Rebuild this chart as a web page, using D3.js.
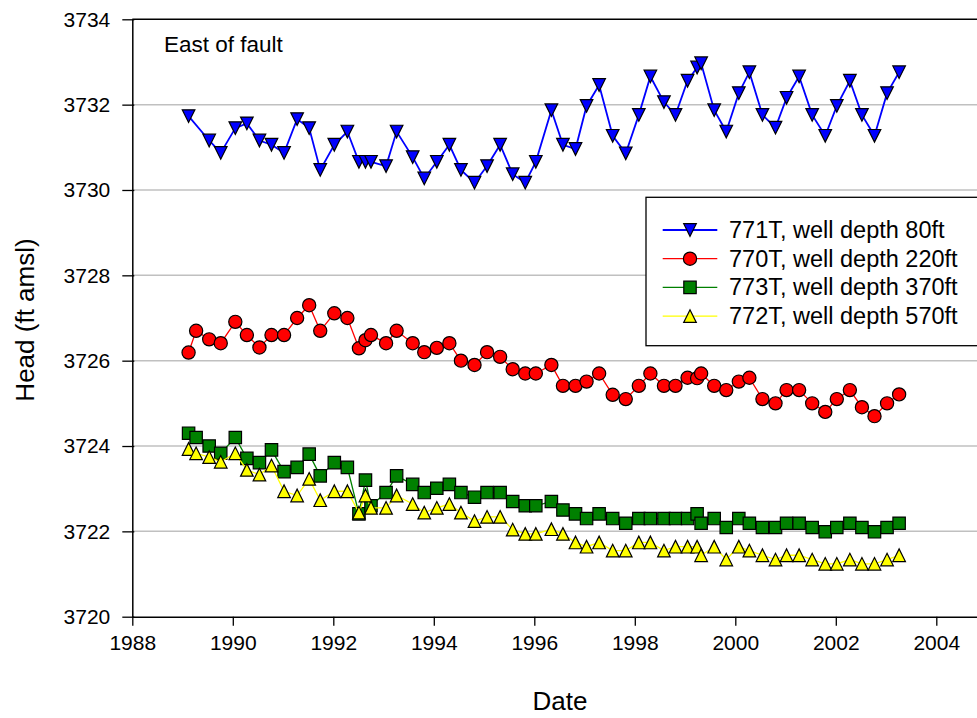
<!DOCTYPE html>
<html><head><meta charset="utf-8">
<script src="https://cdn.jsdelivr.net/npm/d3@7"></script>
<style>body{margin:0;background:#fff}svg{display:block}text{font-family:"Liberation Sans",Arial,sans-serif}</style>
</head><body>
<script>
const dates = [1989.12,1989.27,1989.53,1989.76,1990.05,1990.28,1990.53,1990.77,1991.02,1991.28,1991.52,1991.74,1992.02,1992.28,1992.51,1992.64,1992.75,1993.05,1993.26,1993.58,1993.81,1994.06,1994.31,1994.54,1994.81,1995.06,1995.32,1995.57,1995.82,1996.03,1996.34,1996.57,1996.82,1997.04,1997.29,1997.56,1997.82,1998.08,1998.31,1998.58,1998.81,1999.05,1999.24,1999.32,1999.58,1999.82,2000.07,2000.28,2000.54,2000.80,2001.02,2001.27,2001.53,2001.79,2002.02,2002.28,2002.52,2002.77,2003.02,2003.26];
const w771T = [3731.73,null,3731.16,3730.87,3731.45,3731.56,3731.16,3731.06,3730.87,3731.66,3731.45,3730.47,3731.06,3731.37,3730.66,3730.66,3730.66,3730.56,3731.37,3730.77,3730.27,3730.66,3731.06,3730.47,3730.17,3730.56,3731.06,3730.37,3730.17,3730.66,3731.87,3731.06,3730.96,3731.97,3732.46,3731.27,3730.86,3731.76,3732.66,3732.06,3731.76,3732.56,3732.87,3732.97,3731.87,3731.37,3732.27,3732.76,3731.76,3731.46,3732.16,3732.66,3731.76,3731.27,3731.97,3732.56,3731.76,3731.27,3732.27,3732.76];
const w770T = [3726.19,3726.70,3726.50,3726.41,3726.91,3726.60,3726.31,3726.60,3726.60,3727.00,3727.30,3726.70,3727.11,3727.00,3726.29,3726.48,3726.60,3726.41,3726.70,3726.41,3726.20,3726.30,3726.41,3726.00,3725.90,3726.20,3726.09,3725.80,3725.70,3725.70,3725.90,3725.41,3725.41,3725.51,3725.70,3725.20,3725.10,3725.41,3725.70,3725.41,3725.41,3725.60,3725.59,3725.70,3725.41,3725.31,3725.51,3725.60,3725.10,3725.00,3725.31,3725.31,3725.00,3724.80,3725.10,3725.31,3724.91,3724.70,3725.00,3725.21];
const w773T = [3724.30,3724.20,3724.00,3723.83,3724.20,3723.71,3723.61,3723.91,3723.40,3723.50,3723.81,3723.30,3723.61,3723.50,3722.41,3723.20,3722.60,3722.91,3723.30,3723.10,3722.91,3723.01,3723.10,3722.91,3722.80,3722.91,3722.91,3722.70,3722.60,3722.60,3722.70,3722.50,3722.41,3722.30,3722.41,3722.30,3722.19,3722.30,3722.30,3722.30,3722.30,3722.30,3722.41,3722.19,3722.30,3722.09,3722.30,3722.19,3722.09,3722.09,3722.19,3722.19,3722.09,3721.99,3722.09,3722.19,3722.09,3721.99,3722.09,3722.19];
const w772T = [3723.93,3723.83,3723.74,3723.63,3723.83,3723.44,3723.33,3723.54,3722.94,3722.84,3723.23,3722.73,3722.94,3722.94,3722.44,3722.84,3722.55,3722.55,3722.84,3722.64,3722.44,3722.55,3722.64,3722.44,3722.24,3722.34,3722.34,3722.04,3721.94,3721.94,3722.05,3721.94,3721.74,3721.64,3721.74,3721.55,3721.55,3721.74,3721.74,3721.55,3721.64,3721.64,3721.64,3721.44,3721.64,3721.34,3721.64,3721.55,3721.44,3721.34,3721.44,3721.44,3721.34,3721.24,3721.24,3721.34,3721.24,3721.24,3721.34,3721.44];
const seriesNames = ["771T, well depth 80ft","770T, well depth 220ft","773T, well depth 370ft","772T, well depth 570ft"];
const xTicks = [1988,1990,1992,1994,1996,1998,2000,2002,2004];
const yTicks = [3720,3722,3724,3726,3728,3730,3732,3734];

const W = 977, H = 718;
const svg = d3.select("body").append("svg").attr("width", W).attr("height", H);
const L = 132.3, T = 19.3, B = 616.7;
const x = d3.scaleLinear().domain([1988, 2006]).range([L, L + 18 * 50.25]);
const y = d3.scaleLinear().domain([3720, 3734]).range([B, T]);

svg.append("g").selectAll("line").data(yTicks.filter(v => v > 3720 && v < 3734)).join("line")
  .attr("x1", L).attr("x2", x(2006)).attr("y1", d => y(d)).attr("y2", d => y(d))
  .attr("stroke", "#c0c0c0").attr("stroke-width", 1.5);

svg.append("line").attr("x1", L).attr("x2", x(2006)).attr("y1", T).attr("y2", T).attr("stroke", "#000").attr("stroke-width", 1.5);

const xAxis = svg.append("g").attr("transform", `translate(0,${B})`)
  .call(d3.axisBottom(x).tickValues(xTicks).tickFormat(d3.format("d")).tickSize(9).tickSizeOuter(0).tickPadding(9));
const yAxis = svg.append("g").attr("transform", `translate(${L},0)`)
  .call(d3.axisLeft(y).tickValues(yTicks).tickFormat(d3.format("d")).tickSize(10).tickSizeOuter(0).tickPadding(12));
[xAxis, yAxis].forEach(g => {
  g.select(".domain").attr("stroke", "#000").attr("stroke-width", 1.5);
  g.selectAll(".tick line").attr("stroke", "#000").attr("stroke-width", 1.3);
  g.selectAll("text").attr("font-size", 21).attr("fill", "#000").attr("font-family", '"Liberation Sans",Arial,sans-serif');
});
yAxis.selectAll(".tick line").attr("x2", -10).attr("x1", 2);

svg.append("text").attr("x", 560).attr("y", 710).attr("text-anchor", "middle").attr("font-size", 26).text("Date");
svg.append("text").attr("transform", "translate(34,320) rotate(-90)").attr("text-anchor", "middle").attr("font-size", 26).text("Head (ft amsl)");
svg.append("text").attr("x", 164).attr("y", 52).attr("font-size", 22.5).text("East of fault");

const sym = {
  tdown: d3.symbol().type({draw(c, s){ const h=6.3; c.moveTo(-h, -h); c.lineTo(h, -h); c.lineTo(0, h); c.closePath(); }}),
  circle: d3.symbol().type(d3.symbolCircle).size(Math.PI * 6.6 * 6.6),
  square: d3.symbol().type(d3.symbolSquare).size(12.4 * 12.4),
  tup: d3.symbol().type({draw(c, s){ const h=6.3; c.moveTo(-h, h); c.lineTo(h, h); c.lineTo(0, -h); c.closePath(); }})
};
const series = [
  {name: seriesNames[0], vals: w771T, color: "#0000ff", lw: 1.8, sym: sym.tdown},
  {name: seriesNames[1], vals: w770T, color: "#ff0000", lw: 1.3, sym: sym.circle},
  {name: seriesNames[2], vals: w773T, color: "#008000", lw: 1.3, sym: sym.square},
  {name: seriesNames[3], vals: w772T, color: "#ffff00", lw: 1.3, sym: sym.tup}
];
const line = d3.line().x(d => x(d[0])).y(d => y(d[1]));
series.forEach(s => {
  const pts = dates.map((d, i) => [d, s.vals[i]]).filter(p => p[1] != null);
  const g = svg.append("g");
  g.append("path").attr("d", line(pts)).attr("fill", "none").attr("stroke", s.color).attr("stroke-width", s.lw);
  g.selectAll("path.m").data(pts).join("path").attr("class", "m")
    .attr("transform", d => `translate(${x(d[0])},${y(d[1])})`)
    .attr("d", s.sym()).attr("fill", s.color).attr("stroke", "#000").attr("stroke-width", 1.2);
});

const lg = svg.append("g");
lg.append("rect").attr("x", 646).attr("y", 197.3).attr("width", 360).attr("height", 148.4)
  .attr("fill", "#fff").attr("stroke", "#000").attr("stroke-width", 1.3);
series.forEach((s, i) => {
  const yy = 230 + i * 28.7;
  lg.append("line").attr("x1", 662.7).attr("x2", 717.3).attr("y1", yy).attr("y2", yy).attr("stroke", s.color).attr("stroke-width", s.lw);
  lg.append("path").attr("transform", `translate(690,${yy})`).attr("d", s.sym()).attr("fill", s.color).attr("stroke", "#000").attr("stroke-width", 1.2);
  lg.append("text").attr("x", 729).attr("y", yy + 8).attr("font-size", 23.5).text(s.name);
});
</script>
</body></html>
